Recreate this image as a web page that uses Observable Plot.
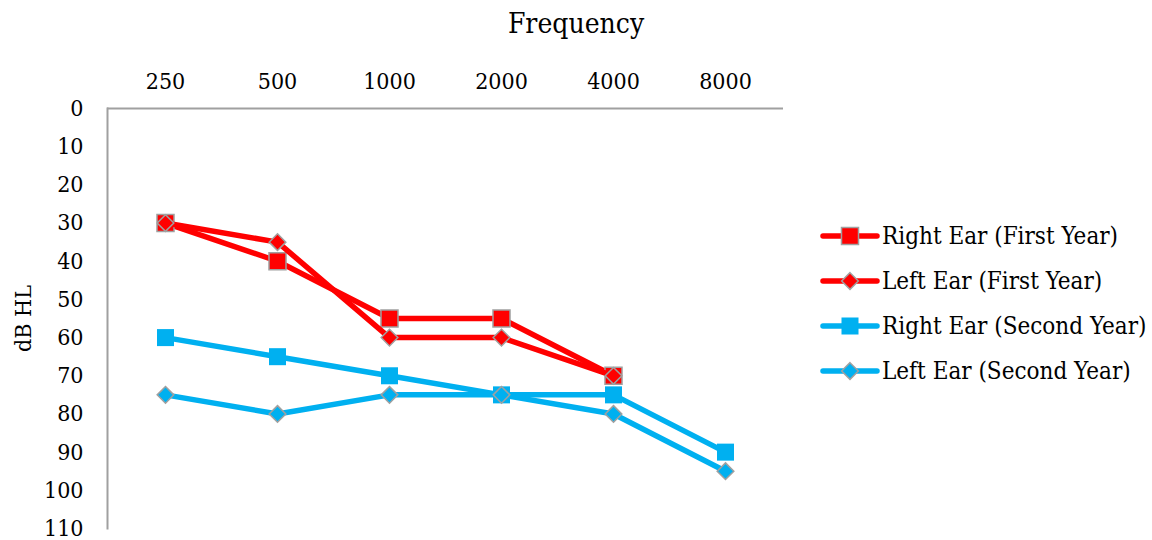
<!DOCTYPE html>
<html>
<head>
<meta charset="utf-8">
<script src="https://cdn.jsdelivr.net/npm/d3@7"></script>
<script src="https://cdn.jsdelivr.net/npm/@observablehq/plot@0.6"></script>
<style>
  body { margin: 0; background: #fff; }
  #chart { position: relative; width: 1152px; height: 540px; font-family: "DejaVu Serif Condensed", "DejaVu Serif", serif; font-stretch: condensed; color: #000; }
  #title { height: 50px; box-sizing: border-box; padding-top: 9px; font-size: 28px; line-height: 30px; text-align: center; }
  #legend { position: absolute; left: 820px; top: 213px; font-size: 24px; }
  #legend .row { display: flex; align-items: center; height: 45px; white-space: nowrap; }
  #legend svg { display: block; }
</style>
</head>
<body>
<div id="chart">
  <div id="title">Frequency</div>
</div>
<script>
// Audiogram: hearing thresholds (dB HL) per test frequency (Hz)
const frequencies = ["250", "500", "1000", "2000", "4000", "8000"];
const dbTicks = [0, 10, 20, 30, 40, 50, 60, 70, 80, 90, 100, 110];

const seriesNames = [
  "Right Ear (First Year)",
  "Left Ear (First Year)",
  "Right Ear (Second Year)",
  "Left Ear (Second Year)"
];
const rightEarFirstYear  = [30, 40, 55, 55, 70, null];
const leftEarFirstYear   = [30, 35, 60, 60, 70, null];
const rightEarSecondYear = [60, 65, 70, 75, 75, 90];
const leftEarSecondYear  = [75, 80, 75, 75, 80, 95];

const seriesValues = [rightEarFirstYear, leftEarFirstYear, rightEarSecondYear, leftEarSecondYear];

// Styling per series
const RED = "#ff0000", BLUE = "#00b0f0", EDGE = "#a0a0a0";
const styles = [
  {color: RED,  symbol: "square",   r: 9.6, edge: EDGE},
  {color: RED,  symbol: "diamond2", r: 7.5, edge: EDGE},
  {color: BLUE, symbol: "square",   r: 9.6, edge: "none"},
  {color: BLUE, symbol: "diamond2", r: 7.5, edge: EDGE}
];

const tables = seriesValues.map((vals, i) =>
  frequencies.map((f, j) => ({series: seriesNames[i], freq: f, db: vals[j]}))
             .filter(d => d.db != null)
);

const seriesMarks = tables.flatMap((rows, i) => [
  Plot.line(rows, {x: "freq", y: "db", stroke: styles[i].color, strokeWidth: 5.5,
                   strokeLinejoin: "round", strokeLinecap: "round"}),
  Plot.dot(rows, {x: "freq", y: "db", symbol: styles[i].symbol, r: styles[i].r,
                  fill: styles[i].color, stroke: styles[i].edge, strokeWidth: 1.5})
]);

const chart = Plot.plot({
  width: 1152,
  height: 490,
  marginTop: 58,
  marginBottom: 12,
  marginLeft: 107,
  marginRight: 369,
  style: "font-family: 'DejaVu Serif Condensed', 'DejaVu Serif', serif; font-stretch: condensed; font-size: 23px; color: #000; background: #fff;",
  x: {type: "band", domain: frequencies, padding: 0, axis: "top", tickSize: 0, tickPadding: 20, label: null},
  y: {domain: [0, 110], reverse: true, ticks: dbTicks, tickSize: 0, tickPadding: 24,
      label: "dB HL", labelAnchor: "center", labelOffset: 93, labelArrow: "none"},
  marks: [
    Plot.ruleY([0], {stroke: EDGE, strokeWidth: 2}),
    Plot.frame({anchor: "left", stroke: EDGE, strokeWidth: 2}),
    ...seriesMarks
  ]
});
document.getElementById("chart").appendChild(chart);

// Legend on the right
const legend = d3.select("#chart").append("div").attr("id", "legend");
seriesNames.forEach((name, i) => {
  const s = styles[i];
  const row = legend.append("div").attr("class", "row");
  const svg = row.append("svg").attr("width", 62).attr("height", 24);
  svg.append("line").attr("x1", 3).attr("x2", 57).attr("y1", 12).attr("y2", 12)
     .attr("stroke", s.color).attr("stroke-width", 5.5).attr("stroke-linecap", "round");
  const sym = s.symbol === "square" ? d3.symbolSquare : d3.symbolDiamond2;
  svg.append("path").attr("transform", "translate(30,12)")
     .attr("d", d3.symbol(sym, s.r * s.r * Math.PI)())
     .attr("fill", s.color).attr("stroke", s.edge).attr("stroke-width", 1.5);
  row.append("span").text(name);
});
</script>
</body>
</html>
